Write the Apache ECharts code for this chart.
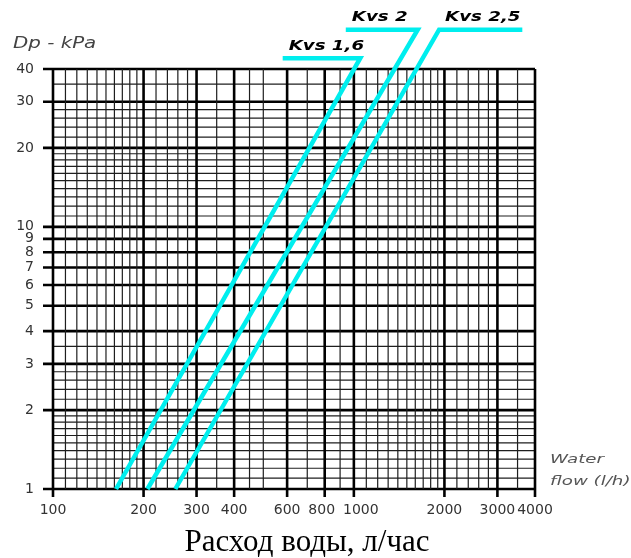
<!DOCTYPE html>
<html>
<head>
<meta charset="utf-8">
<script src="https://cdn.jsdelivr.net/npm/echarts@6/dist/echarts.min.js"></script>
<style>
  html, body { margin: 0; padding: 0; background: #fff; }
  #chart { width: 631px; height: 558px; }
</style>
</head>
<body>
<div id="chart"></div>
<script>
    var X_MIN = 100, X_MAX = 4000, Y_MIN = 1, Y_MAX = 40;

    // grid lines of the log paper: heavy ones carry a tick and a label
    var xLabelled = [100, 200, 300, 400, 600, 800, 1000, 2000, 3000, 4000];
    var xFine = [110, 120, 130, 140, 150, 160, 170, 180, 190, 220, 240, 260, 280, 350, 450, 500, 700, 900,
        1100, 1200, 1300, 1400, 1500, 1600, 1700, 1800, 1900, 2200, 2400, 2600, 2800, 3500];
    var yLabelled = [1, 2, 3, 4, 5, 6, 7, 8, 9, 10, 20, 30, 40];
    var yFine = [1.1, 1.2, 1.3, 1.4, 1.5, 1.6, 1.7, 1.8, 1.9, 2.2, 2.4, 2.6, 2.8, 3.5,
        11, 12, 13, 14, 15, 16, 17, 18, 19, 22, 24, 26, 28, 35];

    // valve curves: start, top corner, end of the leader line
    var kvsNames = ['Kvs 1,6', 'Kvs 2', 'Kvs 2,5'];
    var kvs16 = [[162, 1], [1050, 44], [580, 44]];
    var kvs2 = [[206, 1], [1630, 56.5], [940, 56.5]];
    var kvs25 = [[255, 1], [1920, 56.5], [3630, 56.5]];

    var CYAN = '#00eeee';
    var LABEL_FONT = '14px "DejaVu Sans"';

    var xGrid = xFine.map(function (v) { return [v, Y_MIN, 0]; })
        .concat(xLabelled.map(function (v) { return [v, Y_MIN, 1]; }));
    var yGrid = yFine.map(function (v) { return [X_MIN, v, 0]; })
        .concat(yLabelled.map(function (v) { return [X_MIN, v, 1]; }));

    var kvsLabels = [kvs16, kvs2, kvs25].map(function (pts, i) {
        return [Math.min(pts[1][0], pts[2][0]), pts[1][1], i];
    });

    function drawVertical(params, api) {
        var v = api.value(0), heavy = api.value(2);
        var a = api.coord([v, Y_MIN]), b = api.coord([v, Y_MAX]);
        var kids = [{
            type: 'line',
            shape: { x1: a[0], y1: a[1] + (heavy ? 8 : 0), x2: b[0], y2: b[1] },
            style: { stroke: heavy ? '#000' : '#1e1e1e', lineWidth: heavy ? 2.6 : 1.2 }
        }];
        if (heavy) {
            // 800 and 1000 sit close together, the paper pushes 1000 a little right
            var shift = v === 1000 ? 7 : (v === 800 ? -3 : 0);
            kids.push({
                type: 'text', x: a[0] + shift, y: a[1] + 21,
                style: { text: String(v), align: 'center', verticalAlign: 'middle', font: LABEL_FONT, fill: '#333' }
            });
        }
        return { type: 'group', children: kids };
    }

    function drawHorizontal(params, api) {
        var v = api.value(1), heavy = api.value(2);
        var a = api.coord([X_MIN, v]), b = api.coord([X_MAX, v]);
        var kids = [{
            type: 'line',
            shape: { x1: a[0] - (heavy ? 10 : 0), y1: a[1], x2: b[0], y2: b[1] },
            style: { stroke: heavy ? '#000' : '#1e1e1e', lineWidth: heavy ? 2.6 : 1.2 }
        }];
        if (heavy) {
            kids.push({
                type: 'text', x: a[0] - 19, y: a[1],
                style: { text: String(v), align: 'right', verticalAlign: 'middle', font: LABEL_FONT, fill: '#333' }
            });
        }
        return { type: 'group', children: kids };
    }

    function drawKvsLabel(params, api) {
        var p = api.coord([api.value(0), api.value(1)]);
        return {
            type: 'text', x: p[0] + 6, y: p[1] - 12, scaleX: 1.3,
            style: {
                text: kvsNames[api.value(2)], align: 'left', verticalAlign: 'middle',
                font: 'italic bold 14px "DejaVu Sans"', fill: '#000'
            }
        };
    }

    function kvsSeries(data) {
        return {
            type: 'line', data: data, symbol: 'none', clip: false, z: 5, silent: true,
            lineStyle: { color: CYAN, width: 4.5, cap: 'butt', join: 'miter' }
        };
    }

    var myChart = echarts.init(document.getElementById('chart'));
    var option = {
        animation: false,
        backgroundColor: '#fff',
        grid: { left: 53, right: 96, top: 69, bottom: 69 },
        xAxis: {
            type: 'log', logBase: 10, min: X_MIN, max: X_MAX,
            axisLine: { show: false }, axisTick: { show: false }, axisLabel: { show: false }, splitLine: { show: false }
        },
        yAxis: {
            type: 'log', logBase: 10, min: Y_MIN, max: Y_MAX,
            axisLine: { show: false }, axisTick: { show: false }, axisLabel: { show: false }, splitLine: { show: false }
        },
        graphic: [
            { type: 'text', left: 13, top: 36, scaleX: 1.24,
              style: { text: 'Dp - kPa', font: 'italic 16px "DejaVu Sans"', fill: '#444' } },
            { type: 'text', x: 550, y: 460, scaleX: 1.4,
              style: { text: 'Water', font: 'italic 13px "DejaVu Sans"', fill: '#555', verticalAlign: 'middle' } },
            { type: 'text', x: 550, y: 482, scaleX: 1.4,
              style: { text: 'flow (l/h)', font: 'italic 13px "DejaVu Sans"', fill: '#555', verticalAlign: 'middle' } },
            { type: 'text', x: 307, y: 543,
              style: { text: 'Расход воды, л/час', font: '31px "Liberation Serif"', fill: '#000',
                       align: 'center', verticalAlign: 'middle' } }
        ],
        series: [
            { type: 'custom', renderItem: drawHorizontal, data: yGrid, clip: false, silent: true, z: 1,
              encode: { x: 0, y: 1 } },
            { type: 'custom', renderItem: drawVertical, data: xGrid, clip: false, silent: true, z: 1,
              encode: { x: 0, y: 1 } },
            kvsSeries(kvs16),
            kvsSeries(kvs2),
            kvsSeries(kvs25),
            { type: 'custom', renderItem: drawKvsLabel, data: kvsLabels, clip: false, silent: true, z: 6,
              encode: { x: 0, y: 1 } }
        ]
    };
    myChart.setOption(option, true);
</script>
</body>
</html>
